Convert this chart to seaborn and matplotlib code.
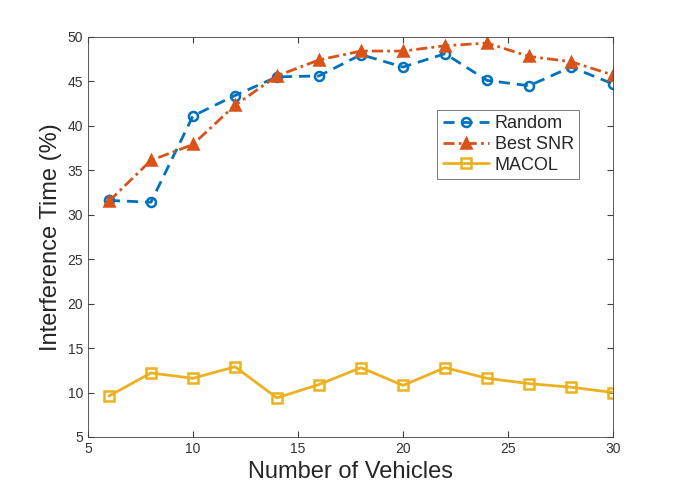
import pandas as pd
import seaborn as sns
import matplotlib.pyplot as plt

# Data
vehicles = [6, 8, 10, 12, 14, 16, 18, 20, 22, 24, 26, 28, 30]
random_sel = [31.6, 31.4, 41.1, 43.4, 45.5, 45.6, 48.0, 46.6, 48.1, 45.1, 44.5, 46.6, 44.7]
best_snr = [31.5, 36.1, 37.9, 42.3, 45.6, 47.4, 48.4, 48.4, 49.0, 49.3, 47.8, 47.2, 45.7]
macol = [9.6, 12.2, 11.6, 12.9, 9.4, 10.9, 12.8, 10.8, 12.8, 11.6, 11.0, 10.6, 10.0]

sns.set_style('ticks')
plt.rcParams['font.family'] = ['Liberation Sans', 'DejaVu Sans']

fig = plt.figure(figsize=(6.76, 4.91), dpi=100)
ax = fig.add_axes([0.130, 0.110, 0.777, 0.815])

series = [
    ('Random', random_sel, '#0072BD', (0, (4, 2.5)), 'o', 'none', 6.5),
    ('Best SNR', best_snr, '#D95319', (0, (4, 1.5, 1, 1.5)), '^', '#D95319', 7.5),
    ('MACOL', macol, '#EDB120', '-', 's', 'none', 6.5),
]
for name, vals, col, ls, mk, mfc, ms in series:
    df = pd.DataFrame({'x': vehicles, 'y': vals})
    sns.lineplot(data=df, x='x', y='y', ax=ax, color=col, linestyle=ls,
                 linewidth=2, marker=mk, markersize=ms, markerfacecolor=mfc,
                 markeredgecolor=col, markeredgewidth=1.8, label=name)

ax.set_xlim(5, 30)
ax.set_ylim(5, 50)
ax.set_xticks([5, 10, 15, 20, 25, 30])
ax.set_yticks(range(5, 51, 5))
ax.tick_params(direction='in', top=True, right=True, labelsize=10, length=4,
               color='#404040', labelcolor='#333333')
for s in ax.spines.values():
    s.set_color('#404040')
    s.set_linewidth(0.6)
ax.set_xlabel('Number of Vehicles', fontsize=17, color='#262626')
ax.set_ylabel('Interference Time (%)', fontsize=17, color='#262626')

leg = ax.legend(loc='upper right', bbox_to_anchor=(0.953, 0.84), fontsize=13,
                frameon=True, fancybox=False, edgecolor='#404040',
                handlelength=2.6, borderpad=0.3, labelspacing=0.2, handletextpad=0.3)
leg.get_frame().set_linewidth(0.6)

fig.savefig('out.png', dpi=100)
